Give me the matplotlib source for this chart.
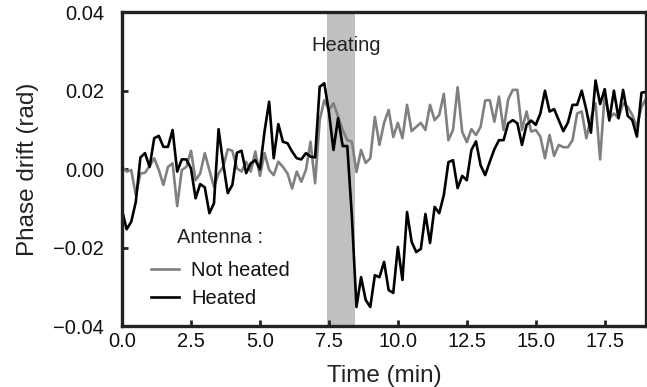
import numpy as np
import matplotlib
matplotlib.use("Agg")
import matplotlib.pyplot as plt

plt.rcParams['font.family'] = ['Liberation Sans', 'DejaVu Sans']

# samples every 10 s (1/6 min), 0 .. 19 min
step_min = 1 / 6

heated = [
    -0.0104, -0.0153, -0.0134, -0.0083, 0.0030, 0.0041, 0.0006, 0.0079, 0.0085, 0.0057,
    0.0057, 0.0100, -0.0006, 0.0025, 0.0025, 0.0002, -0.0074, -0.0038, -0.0046, -0.0112,
    -0.0087, 0.0102, 0.0015, -0.0061, -0.0040, 0.0042, 0.0047, -0.0010, 0.0015, 0.0023,
    0.0000, 0.0096, 0.0172, 0.0028, 0.0115, 0.0070, 0.0066, 0.0045, 0.0028, 0.0025,
    0.0041, 0.0032, 0.0030, 0.0210, 0.0219, 0.0146, 0.0049, 0.0130, 0.0059, 0.0059,
    -0.0120, -0.0351, -0.0275, -0.0333, -0.0351, -0.0270, -0.0275, -0.0236, -0.0308, -0.0315,
    -0.0198, -0.0282, -0.0109, -0.0185, -0.0211, -0.0203, -0.0114, -0.0188, -0.0096, -0.0112,
    -0.0066, 0.0018, 0.0023, -0.0048, -0.0017, -0.0028, 0.0049, 0.0071, 0.0010, -0.0015,
    0.0019, 0.0051, 0.0074, 0.0074, 0.0117, 0.0125, 0.0117, 0.0062, 0.0113, 0.0124,
    0.0113, 0.0142, 0.0200, 0.0147, 0.0153, 0.0125, 0.0097, 0.0119, 0.0164, 0.0164,
    0.0200, 0.0151, 0.0093, 0.0226, 0.0166, 0.0204, 0.0124, 0.0200, 0.0130, 0.0202,
    0.0136, 0.0125, 0.0083, 0.0195, 0.0197,
]

not_heated = [
    0.0006, -0.0006, -0.0002, -0.0066, -0.0011, -0.0009, 0.0008, 0.0028, -0.0002, -0.0040,
    0.0006, 0.0015, -0.0094, -0.0002, 0.0006, 0.0047, -0.0028, -0.0011, 0.0041, -0.0002,
    -0.0045, -0.0011, 0.0006, 0.0051, 0.0047, 0.0002, -0.0006, 0.0019, -0.0006, 0.0045,
    -0.0017, 0.0041, -0.0002, -0.0015, 0.0019, 0.0006, -0.0011, -0.0049, -0.0006, -0.0032,
    -0.0002, 0.0070, -0.0036, 0.0125, 0.0176, 0.0151, 0.0168, 0.0134, 0.0100, 0.0074,
    0.0070, -0.0007, 0.0049, 0.0016, 0.0028, 0.0133, 0.0062, 0.0118, 0.0151, 0.0082,
    0.0118, 0.0079, 0.0164, 0.0097, 0.0108, 0.0118, 0.0100, 0.0164, 0.0125, 0.0138,
    0.0192, 0.0074, 0.0100, 0.0209, 0.0095, 0.0069, 0.0102, 0.0087, 0.0108, 0.0175,
    0.0176, 0.0121, 0.0185, 0.0100, 0.0178, 0.0202, 0.0202, 0.0100, 0.0147, 0.0096,
    0.0100, 0.0083, 0.0028, 0.0087, 0.0034, 0.0062, 0.0056, 0.0056, 0.0074, 0.0142,
    0.0147, 0.0079, 0.0130, 0.0168, 0.0025, 0.0193, 0.0130, 0.0142, 0.0130, 0.0168,
    0.0159, 0.0138, 0.0108, 0.0159, 0.0180,
]

heating_start, heating_end = 7.43, 8.43

t = np.arange(len(heated)) * step_min

fig = plt.figure(figsize=(6.47, 3.87), dpi=100)
ax = fig.add_axes([0.1886, 0.157, 0.81, 0.8115])

ax.axvspan(heating_start, heating_end, color='#c0c0c0', lw=0, zorder=0)
ax.plot(t, not_heated, color='#808080', lw=1.9, label='Not heated')
ax.plot(t, heated, color='black', lw=1.9, label='Heated')
ax.text((heating_start + heating_end) / 2 + 0.2, 0.0316, 'Heating',
        ha='center', va='center', fontsize=14.5, color='#222222')

ax.set_xlim(0, 19)
ax.set_ylim(-0.04, 0.04)
ax.set_xticks(np.arange(0, 19, 2.5))
ax.set_yticks([-0.04, -0.02, 0.0, 0.02, 0.04])
ax.xaxis.set_major_formatter(matplotlib.ticker.FuncFormatter(lambda v, p: f'{v:.1f}'))
ax.yaxis.set_major_formatter(matplotlib.ticker.FuncFormatter(
    lambda v, p: f'{v:.2f}'.replace('-', '\u2212')))

for s in ax.spines.values():
    s.set_linewidth(2.4)
    s.set_color('#222222')
ax.tick_params(axis='both', direction='in', length=4, width=2, colors='#222222',
               labelsize=14.5, labelcolor='#111111')
ax.tick_params(axis='y', pad=13)
ax.tick_params(axis='x', pad=4)

ax.set_xlabel('Time (min)', fontsize=17.5, color='#222222', labelpad=10)
ax.set_ylabel('Phase drift (rad)', fontsize=17.5, color='#222222', labelpad=10)

leg = ax.legend(title='Antenna :', loc='lower left', bbox_to_anchor=(0.02, 0.0),
                frameon=False, fontsize=14.5, title_fontsize=14.5,
                handlelength=1.4, handletextpad=0.6, labelspacing=0.45)
leg.get_title().set_color('#222222')
leg._legend_box.sep = 10
for txt in leg.get_texts():
    txt.set_color('#111111')

fig.savefig('out.png', dpi=100)
